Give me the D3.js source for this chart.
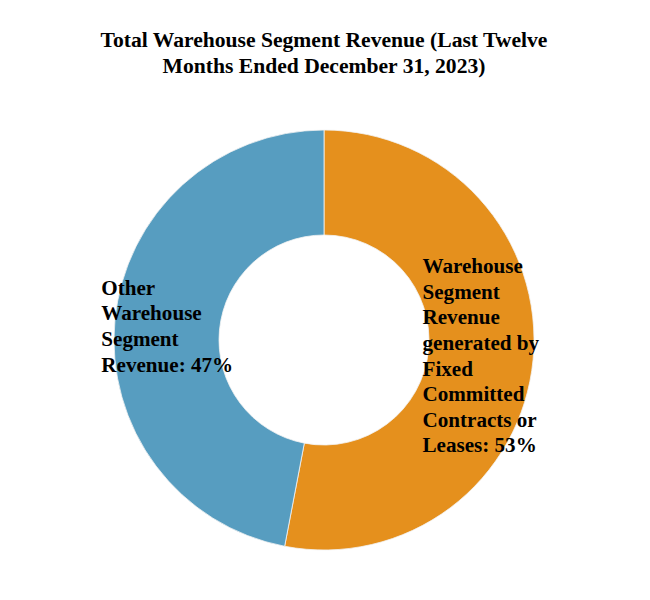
<!DOCTYPE html>
<html>
<head>
<meta charset="utf-8">
<script src="https://cdn.jsdelivr.net/npm/d3@7"></script>
<style>
  body { margin: 0; background: #fff; }
  text { font-family: "Liberation Serif", "Times New Roman", serif; font-weight: bold; fill: #000; }
</style>
</head>
<body>
<svg id="chart" width="650" height="600"></svg>
<script>
const titleLines = ["Total Warehouse Segment Revenue (Last Twelve", "Months Ended December 31, 2023)"];
const categories = ["Warehouse Segment Revenue generated by Fixed Committed Contracts or Leases", "Other Warehouse Segment Revenue"];
const values = [53, 47];
const colors = ["#E5901D", "#579DC0"];

const svg = d3.select("#chart");
const W = 650, H = 600;
const cx = 324, cy = 340, outerR = 210, innerR = 105;

svg.append("rect").attr("width", W).attr("height", H).attr("fill", "#fff");

svg.append("g").selectAll("text").data(titleLines).join("text")
  .attr("x", 324).attr("y", (d, i) => 47 + i * 26)
  .attr("text-anchor", "middle")
  .style("font-size", "21.6px")
  .text(d => d);

const data = categories.map((c, i) => ({ name: c, value: values[i], color: colors[i] }));
const pie = d3.pie().value(d => d.value).sort(null);
const arcs = pie(data);
const arc = d3.arc().innerRadius(innerR).outerRadius(outerR);

const g = svg.append("g").attr("transform", `translate(${cx},${cy})`);
g.selectAll("path").data(arcs).join("path")
  .attr("d", arc)
  .attr("fill", d => d.data.color)
  .attr("stroke", "#f2f2f2")
  .attr("stroke-width", 0.8);

const fontSize = 21.1, lineH = 25.6, wrapW = 142;
arcs.forEach(a => {
  const [px, py] = arc.centroid(a);
  const label = `${a.data.name}: ${a.data.value}%`;
  const t = g.append("text").style("font-size", fontSize + "px");
  const words = label.split(" ");
  const lines = [];
  let cur = [];
  const probe = t.append("tspan");
  words.forEach(w => {
    const trial = cur.concat([w]).join(" ");
    probe.text(trial);
    if (probe.node().getComputedTextLength() > wrapW && cur.length) {
      lines.push(cur.join(" "));
      cur = [w];
    } else cur.push(w);
  });
  if (cur.length) lines.push(cur.join(" "));
  probe.remove();
  const spans = lines.map(l => t.append("tspan").text(l));
  const maxW = d3.max(spans, s => s.node().getComputedTextLength());
  const x0 = px - maxW / 2;
  const y0 = py - (lines.length - 1) * lineH / 2 + 8;
  spans.forEach((s, i) => s.attr("x", x0).attr("y", y0 + i * lineH));
});
</script>
</body>
</html>
